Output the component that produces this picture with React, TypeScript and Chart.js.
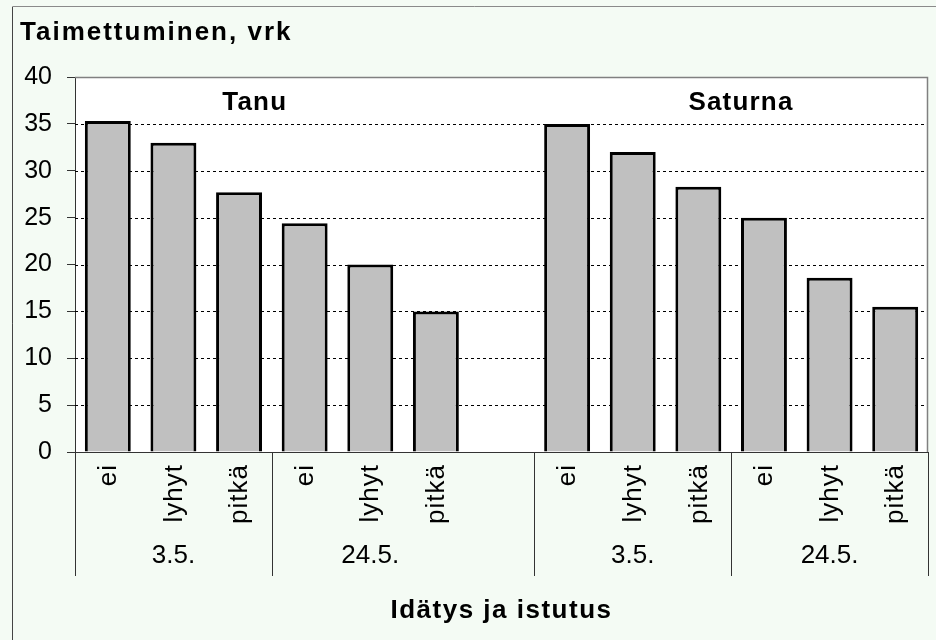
import React, { useEffect, useRef } from "react";
import { Chart, registerables } from "chart.js";

Chart.register(...registerables);

const chartTitle = "Taimettuminen, vrk";
const xAxisTitle = "Idätys ja istutus";
const categories = ["ei", "lyhyt", "pitkä", "ei", "lyhyt", "pitkä", "", "ei", "lyhyt", "pitkä", "ei", "lyhyt", "pitkä"];
const values: (number | null)[] = [35.3, 33.0, 27.7, 24.4, 20.0, 15.0, null, 35.0, 32.0, 28.3, 25.0, 18.6, 15.5];
const groupLabels = ["3.5.", "24.5.", "3.5.", "24.5."];
const groupStarts = [0, 3, 7, 10];
const groupSizes = [3, 3, 3, 3];
const groupBoundaries = [0, 3, 7, 10, 13];
const varietyLabels = ["Tanu", "Saturna"];
const varietyCenters = [2.24, 9.65];
const yMin = 0;
const yMax = 40;
const yStep = 5;

const FONT = "Arial, 'Liberation Sans', sans-serif";

const decorPlugin = {
  id: "decor",
  beforeDraw(chart: any) {
    const { ctx, chartArea: a, width, height } = chart;
    ctx.save();
    ctx.fillStyle = "#f4fbf4";
    ctx.fillRect(0, 0, width, height);
    ctx.fillStyle = "#ffffff";
    ctx.fillRect(a.left, a.top, a.right - a.left, a.bottom - a.top);
    ctx.strokeStyle = "#8a8a8a";
    ctx.lineWidth = 1;
    ctx.beginPath();
    ctx.moveTo(12.5, height);
    ctx.lineTo(12.5, 6.5);
    ctx.lineTo(width, 6.5);
    ctx.stroke();
    ctx.strokeStyle = "#444";
    ctx.beginPath();
    ctx.moveTo(12.5, height);
    ctx.lineTo(12.5, 7);
    ctx.stroke();
    ctx.restore();
  },
  beforeDatasetsDraw(chart: any) {
    const { ctx, chartArea: a } = chart;
    const y = chart.scales.y;
    ctx.save();
    ctx.strokeStyle = "#000";
    ctx.lineWidth = 1;
    ctx.setLineDash([3, 3]);
    for (let v = yMin + yStep; v < yMax; v += yStep) {
      const py = Math.round(y.getPixelForValue(v)) + 0.5;
      ctx.beginPath();
      ctx.moveTo(a.left, py);
      ctx.lineTo(a.right, py);
      ctx.stroke();
    }
    ctx.restore();
  },
  afterDraw(chart: any) {
    const { ctx, chartArea: a } = chart;
    const x = chart.scales.x;
    ctx.save();
    ctx.strokeStyle = "#808080";
    ctx.lineWidth = 1.5;
    ctx.beginPath();
    ctx.moveTo(a.left, a.top + 0.5);
    ctx.lineTo(a.right - 0.5, a.top + 0.5);
    ctx.lineTo(a.right - 0.5, a.bottom);
    ctx.stroke();

    ctx.strokeStyle = "#333";
    ctx.lineWidth = 1;
    groupBoundaries.forEach((b) => {
      const px = Math.round(x.getPixelForValue(b - 0.5)) + 0.5;
      ctx.beginPath();
      ctx.moveTo(px, a.bottom);
      ctx.lineTo(px, a.bottom + 124);
      ctx.stroke();
    });

    ctx.fillStyle = "#000";
    ctx.font = `26px ${FONT}`;
    (ctx as any).letterSpacing = "1px";
    categories.forEach((c, i) => {
      if (!c) return;
      const px = x.getPixelForValue(i);
      ctx.save();
      ctx.translate(px + 1, a.bottom + 12);
      ctx.rotate(-Math.PI / 2);
      ctx.textAlign = "right";
      ctx.textBaseline = "middle";
      ctx.fillText(c, 0, 0);
      ctx.restore();
    });

    (ctx as any).letterSpacing = "0px";
    ctx.textAlign = "center";
    ctx.textBaseline = "alphabetic";
    groupLabels.forEach((g, i) => {
      const px = x.getPixelForValue(groupStarts[i] + (groupSizes[i] - 1) / 2);
      ctx.fillText(g, px, a.bottom + 111);
    });

    ctx.font = `bold 26px ${FONT}`;
    (ctx as any).letterSpacing = "1.2px";
    varietyLabels.forEach((v, i) => {
      const px = x.getPixelForValue(varietyCenters[i]);
      ctx.fillText(v, px, a.top + 33);
    });

    (ctx as any).letterSpacing = "1.5px";
    ctx.fillText(xAxisTitle, (a.left + a.right) / 2, 618);

    ctx.textAlign = "left";
    (ctx as any).letterSpacing = "2px";
    ctx.fillText(chartTitle, 20, 40);
    ctx.restore();
  },
};

export default function App() {
  const ref = useRef<HTMLCanvasElement | null>(null);
  useEffect(() => {
    if (!ref.current) return;
    const chart = new Chart(ref.current, {
      type: "bar",
      data: {
        labels: categories,
        datasets: [
          {
            data: values as any,
            backgroundColor: "#c0c0c0",
            borderColor: "#000000",
            borderWidth: 3,
            barPercentage: 0.7,
            categoryPercentage: 1.0,
          },
        ],
      },
      options: {
        responsive: false,
        animation: false,
        events: [],
        layout: { padding: { left: 0, top: 77, right: 8, bottom: 0 } },
        plugins: { legend: { display: false }, tooltip: { enabled: false }, title: { display: false } },
        scales: {
          x: {
            offset: true,
            ticks: { display: false },
            grid: { display: true, drawOnChartArea: false, drawTicks: false },
            border: { display: true, color: "#333", width: 1 },
            afterFit: (s: any) => {
              s.height = 188;
            },
          },
          y: {
            min: yMin,
            max: yMax,
            ticks: {
              stepSize: yStep,
              color: "#000",
              padding: 15,
              font: { family: FONT, size: 25 },
            },
            grid: { display: true, drawOnChartArea: false, drawTicks: true, tickLength: 8, tickColor: "#333" },
            border: { display: true, color: "#333", width: 1 },
            afterFit: (s: any) => {
              s.width = 75;
            },
          },
        },
      },
      plugins: [decorPlugin],
    });
    return () => chart.destroy();
  }, []);
  return (
    <div style={{ position: "absolute", left: 0, top: 0, width: 936, height: 640 }}>
      <canvas ref={ref} width={936} height={640} style={{ display: "block" }} />
    </div>
  );
}
